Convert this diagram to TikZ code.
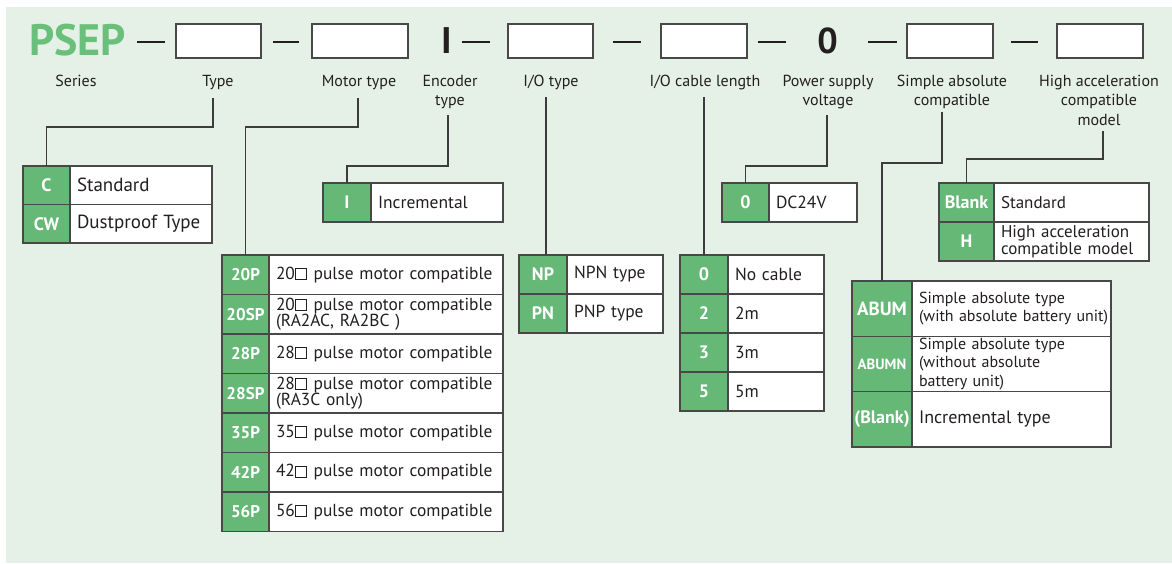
\documentclass[tikz,border=0pt]{standalone}
\usepackage{fontspec}
\setmainfont{PT Sans}
\definecolor{bgc}{RGB}{229,241,230}
\definecolor{gc}{RGB}{102,184,119}
\definecolor{psepc}{RGB}{106,192,122}
\definecolor{bc}{RGB}{72,72,72}
\definecolor{lc}{RGB}{60,60,60}
\definecolor{tc}{RGB}{35,31,32}
\newcommand\sqbox{\kern0.5pt{\fboxsep=0pt\fboxrule=0.9pt\fbox{\rule{0pt}{0.58em}\rule{0.58em}{0pt}}}\kern0.5pt}
\newcommand\fs[2]{\fontsize{#1}{#2}\selectfont}
\tikzset{
  conn/.style={draw=lc, line width=1.3pt},
  dashln/.style={draw=tc, line width=1.2pt},
  topbox/.style={draw=bc, fill=white, line width=1.3pt, inner sep=0pt, outer sep=0pt, anchor=north west, minimum width=85, minimum height=34},
  lbl/.style={text=tc, font=\fs{16}{19.5}, align=center, inner sep=0pt, anchor=north},
  gk/.style={draw=bc, fill=gc, text=white, font=\bfseries\fs{18}{18}, line width=1.3pt, inner sep=0pt, outer sep=0pt, anchor=north west, align=center},
  mk/.style={gk, font=\bfseries\fs{17}{17}},
  wv/.style={draw=bc, fill=white, text=tc, line width=1.3pt, inner xsep=7pt, inner ysep=0pt, outer sep=0pt, anchor=north west, align=left},
}
\begin{document}
\begin{tikzpicture}[x=1pt,y=-1pt]
\useasboundingbox (0,0) rectangle (1172,563);
\fill[bgc] (6,7) rectangle (1172,563);

% ---------- top row ----------
\node[text=psepc, font=\bfseries\fs{44}{44}, inner sep=0pt, anchor=base] (psep) at (77.5,55) {PSEP};
\node[topbox] (b1) at (176,24) {};
\node[topbox, minimum width=96] (b2) at (312,24) {};
\node[text=tc, font=\bfseries\fs{37}{37}, inner sep=0pt, anchor=base] (encI) at (446.5,53) {I};
\node[topbox] (b3) at (508,24) {};
\node[topbox, minimum width=86] (b4) at (661,24) {};
\node[text=tc, font=\bfseries\fs{36}{36}, inner sep=0pt, anchor=base] (pwr0) at (827.5,53) {0};
\node[topbox, minimum width=86] (b5) at (907,24) {};
\node[topbox, minimum width=86] (b6) at (1057,24) {};
\draw[dashln] (137,42) -- (165,42);
\draw[dashln] (273,42) -- (299,42);
\draw[dashln] (462,42) -- (490,42);
\draw[dashln] (613,42) -- (641,42);
\draw[dashln] (758,42) -- (786,42);
\draw[dashln] (868,42) -- (897,42);
\draw[dashln] (1011,42) -- (1038,42);

% ---------- labels ----------
\node[lbl] (lSeries) at (76,72.2) {\strut Series};
\node[lbl] (lType) at (218,72.2) {\strut Type};
\node[lbl] (lMotor) at (359,72.2) {\strut Motor type};
\node[lbl] (lEnc) at (450,72.2) {\strut Encoder\\type};
\node[lbl] (lIO) at (551,72.2) {\strut I/O type};
\node[lbl] (lCable) at (705,72.2) {\strut I/O cable length};
\node[lbl] (lPwr) at (828,72.2) {\strut Power supply\\voltage};
\node[lbl] (lAbs) at (952,72.2) {\strut Simple absolute\\compatible};
\node[lbl] (lHigh) at (1099,72.2) {\strut High acceleration\\compatible\\model};

% ---------- Type table ----------
\node[gk, minimum width=47, minimum height=38.5] (tC) at (23,166) {C};
\node[wv, text width=128, minimum height=38.5, font=\fs{19}{19}] (tCv) at (tC.north east) {Standard};
\node[gk, minimum width=47, minimum height=38.5] (tCW) at (tC.south west) {CW};
\node[wv, text width=128, minimum height=38.5, font=\fs{19}{19}] (tCWv) at (tCW.north east) {Dustproof Type};

% ---------- Encoder table ----------
\node[gk, minimum width=48, minimum height=39] (eI) at (323,183) {I};
\node[wv, text width=118, minimum height=39, font=\fs{17.5}{17.5}] (eIv) at (eI.north east) {Incremental};

% ---------- Motor table ----------
\node[mk, minimum width=47, minimum height=39.5] (m1) at (222,255) {20P};
\node[wv, text width=220, minimum height=39.5, font=\fs{17.4}{15.5}] (m1v) at (m1.north east) {20\sqbox{} pulse motor compatible};
\node[mk, minimum width=47, minimum height=39.5] (m2) at (m1.south west) {20SP};
\node[wv, text width=220, minimum height=39.5, font=\fs{17.4}{15.5}] (m2v) at (m2.north east) {20\sqbox{} pulse motor compatible\\(RA2AC, RA2BC )};
\node[mk, minimum width=47, minimum height=39.5] (m3) at (m2.south west) {28P};
\node[wv, text width=220, minimum height=39.5, font=\fs{17.4}{15.5}] (m3v) at (m3.north east) {28\sqbox{} pulse motor compatible};
\node[mk, minimum width=47, minimum height=39.5] (m4) at (m3.south west) {28SP};
\node[wv, text width=220, minimum height=39.5, font=\fs{17.4}{15.5}] (m4v) at (m4.north east) {28\sqbox{} pulse motor compatible\\(RA3C only)};
\node[mk, minimum width=47, minimum height=39.5] (m5) at (m4.south west) {35P};
\node[wv, text width=220, minimum height=39.5, font=\fs{17.4}{15.5}] (m5v) at (m5.north east) {35\sqbox{} pulse motor compatible};
\node[mk, minimum width=47, minimum height=39.5] (m6) at (m5.south west) {42P};
\node[wv, text width=220, minimum height=39.5, font=\fs{17.4}{15.5}] (m6v) at (m6.north east) {42\sqbox{} pulse motor compatible};
\node[mk, minimum width=47, minimum height=39.5] (m7) at (m6.south west) {56P};
\node[wv, text width=220, minimum height=39.5, font=\fs{17.4}{15.5}] (m7v) at (m7.north east) {56\sqbox{} pulse motor compatible};

% ---------- I/O table ----------
\node[gk, minimum width=48, minimum height=39] (iNP) at (519,255) {NP};
\node[wv, text width=82, minimum height=39, font=\fs{17.5}{17.5}] (iNPv) at (iNP.north east) {NPN type};
\node[gk, minimum width=48, minimum height=39] (iPN) at (iNP.south west) {PN};
\node[wv, text width=82, minimum height=39, font=\fs{17.5}{17.5}] (iPNv) at (iPN.north east) {PNP type};

% ---------- Cable table ----------
\node[gk, minimum width=48, minimum height=39] (c0) at (680,255) {0};
\node[wv, text width=82, minimum height=39, font=\fs{17.5}{17.5}] (c0v) at (c0.north east) {No cable};
\node[gk, minimum width=48, minimum height=39] (c2) at (c0.south west) {2};
\node[wv, text width=82, minimum height=39, font=\fs{17.5}{17.5}] (c2v) at (c2.north east) {2m};
\node[gk, minimum width=48, minimum height=39] (c3) at (c2.south west) {3};
\node[wv, text width=82, minimum height=39, font=\fs{17.5}{17.5}] (c3v) at (c3.north east) {3m};
\node[gk, minimum width=48, minimum height=39] (c5) at (c3.south west) {5};
\node[wv, text width=82, minimum height=39, font=\fs{17.5}{17.5}] (c5v) at (c5.north east) {5m};

% ---------- Power table ----------
\node[gk, minimum width=47, minimum height=39] (p0) at (722,183) {0};
\node[wv, text width=74, minimum height=39, font=\fs{17.5}{17.5}] (p0v) at (p0.north east) {DC24V};

% ---------- High acceleration table ----------
\node[gk, minimum width=55, minimum height=39] (hB) at (939,183) {Blank};
\node[wv, text width=141, minimum height=39, font=\fs{17}{17}] (hBv) at (hB.north east) {Standard};
\node[gk, minimum width=55, minimum height=39] (hH) at (hB.south west) {H};
\node[wv, text width=141, minimum height=39, font=\fs{17}{16.5}] (hHv) at (hH.north east) {High acceleration\\compatible model};

% ---------- Simple absolute table ----------
\node[gk, minimum width=60, minimum height=55.3, font=\bfseries\fs{19}{19}] (aA) at (852,281) {ABUM};
\node[wv, text width=185, minimum height=55.3, font=\fs{16}{18.3}] (aAv) at (aA.north east) {Simple absolute type\\\mbox{(with absolute battery unit)}};
\node[gk, minimum width=60, minimum height=55.3, font=\bfseries\fs{14.8}{14.8}] (aN) at (aA.south west) {ABUMN};
\node[wv, text width=185, minimum height=55.3, font=\fs{16}{18.7}] (aNv) at (aN.north east) {Simple absolute type\\(without absolute\\battery unit)};
\node[gk, minimum width=60, minimum height=55.3] (aB) at (aN.south west) {(Blank)};
\node[wv, text width=185, minimum height=55.3, font=\fs{18}{18}] (aBv) at (aB.north east) {Incremental type};

% ---------- connectors ----------
\coordinate (kType) at (213,98);
\coordinate (kMotor) at (358,98);
\coordinate (kEnc) at (448,115);
\coordinate (kIO) at (546,97);
\coordinate (kCable) at (704,97);
\coordinate (kPwr) at (827,115);
\coordinate (kAbs) at (942,112);
\coordinate (kHigh) at (1103,131);
\draw[conn] (kType) -- (213,127) -| (tC.north);
\draw[conn] (kMotor) -- (358,127) -| (m1.north);
\draw[conn] (kEnc) -- (448,166) -| (eI.north);
\draw[conn] (kIO) -- (kIO |- iNP.north);
\draw[conn] (kCable) -- (kCable |- c0.north);
\draw[conn] (kPwr) -- (827,166) -| (p0.north);
\draw[conn] (kAbs) -- (942,163) -| (aA.north);
\draw[conn] (kHigh) -- (1103,159) -| (hB.north);
\end{tikzpicture}
\end{document}
